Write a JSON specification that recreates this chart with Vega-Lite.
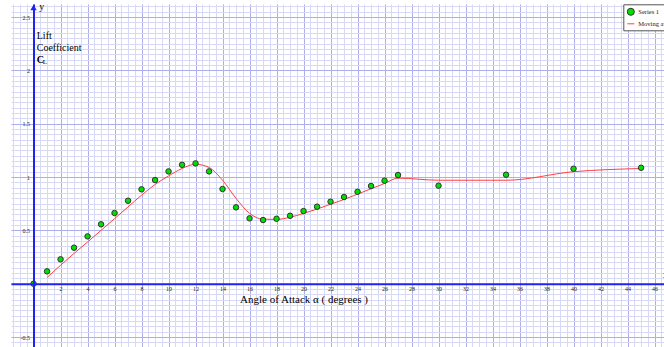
{
  "$schema": "https://vega.github.io/schema/vega-lite/v6.json",
  "width": 653,
  "height": 343,
  "autosize": {"type": "none"},
  "padding": {"left": 11, "top": 4, "right": 0, "bottom": 0},
  "background": "white",
  "config": {"view": {"stroke": null}},
  "data": {
    "values": [
      {"alpha": 0, "cl": 0, "ma": null},
      {"alpha": 1, "cl": 0.116, "ma": 0.058},
      {"alpha": 2, "cl": 0.229, "ma": 0.173},
      {"alpha": 3, "cl": 0.338, "ma": 0.284},
      {"alpha": 4, "cl": 0.444, "ma": 0.391},
      {"alpha": 5, "cl": 0.557, "ma": 0.5},
      {"alpha": 6, "cl": 0.663, "ma": 0.61},
      {"alpha": 7, "cl": 0.778, "ma": 0.72},
      {"alpha": 8, "cl": 0.885, "ma": 0.83},
      {"alpha": 9, "cl": 0.972, "ma": 0.93},
      {"alpha": 10, "cl": 1.053, "ma": 1.01},
      {"alpha": 11, "cl": 1.115, "ma": 1.08},
      {"alpha": 12, "cl": 1.128, "ma": 1.12},
      {"alpha": 13, "cl": 1.053, "ma": 1.09},
      {"alpha": 14, "cl": 0.888, "ma": 0.97},
      {"alpha": 15, "cl": 0.716, "ma": 0.8},
      {"alpha": 16, "cl": 0.613, "ma": 0.66},
      {"alpha": 17, "cl": 0.597, "ma": 0.605},
      {"alpha": 18, "cl": 0.609, "ma": 0.603},
      {"alpha": 19, "cl": 0.637, "ma": 0.623},
      {"alpha": 20, "cl": 0.681, "ma": 0.659},
      {"alpha": 21, "cl": 0.722, "ma": 0.7},
      {"alpha": 22, "cl": 0.769, "ma": 0.745},
      {"alpha": 23, "cl": 0.813, "ma": 0.79},
      {"alpha": 24, "cl": 0.862, "ma": 0.84},
      {"alpha": 25, "cl": 0.916, "ma": 0.89},
      {"alpha": 26, "cl": 0.966, "ma": 0.94},
      {"alpha": 27, "cl": 1.019, "ma": 0.99},
      {"alpha": 30, "cl": 0.919, "ma": 0.97},
      {"alpha": 35, "cl": 1.022, "ma": 0.97},
      {"alpha": 40, "cl": 1.078, "ma": 1.05},
      {"alpha": 45, "cl": 1.087, "ma": 1.08}
    ]
  },
  "resolve": {"axis": {"x": "independent", "y": "independent"}},
  "layer": [
    {
      "transform": [{"filter": "isValid(datum.ma)"}],
      "mark": {"type": "line", "interpolate": "monotone", "strokeWidth": 1, "color": "#ff4040"},
      "encoding": {
        "x": {
          "field": "alpha", "type": "quantitative",
          "scale": {"domain": [-1.67, 46.7], "nice": false, "zero": false},
          "axis": {
            "orient": "bottom",
            "title": null, "labels": false, "ticks": false, "domain": false,
            "grid": true, "gridColor": "#d8d8f7", "gridWidth": 1, "gridOpacity": 1, "zindex": 0,
            "values": [-1.5,-1,-0.5,0,0.5,1,1.5,2,2.5,3,3.5,4,4.5,5,5.5,6,6.5,7,7.5,8,8.5,9,9.5,10,10.5,11,11.5,12,12.5,13,13.5,14,14.5,15,15.5,16,16.5,17,17.5,18,18.5,19,19.5,20,20.5,21,21.5,22,22.5,23,23.5,24,24.5,25,25.5,26,26.5,27,27.5,28,28.5,29,29.5,30,30.5,31,31.5,32,32.5,33,33.5,34,34.5,35,35.5,36,36.5,37,37.5,38,38.5,39,39.5,40,40.5,41,41.5,42,42.5,43,43.5,44,44.5,45,45.5,46,46.5]
          }
        },
        "y": {
          "field": "ma", "type": "quantitative",
          "scale": {"domain": [-0.593, 2.622], "nice": false, "zero": false},
          "axis": {
            "orient": "left",
            "title": null, "labels": false, "ticks": false, "domain": false,
            "grid": true, "gridColor": "#d8d8f7", "gridWidth": 1, "gridOpacity": 1, "zindex": 0,
            "values": [-0.55,-0.5,-0.45,-0.4,-0.35,-0.3,-0.25,-0.2,-0.15,-0.1,-0.05,0,0.05,0.1,0.15,0.2,0.25,0.3,0.35,0.4,0.45,0.5,0.55,0.6,0.65,0.7,0.75,0.8,0.85,0.9,0.95,1,1.05,1.1,1.15,1.2,1.25,1.3,1.35,1.4,1.45,1.5,1.55,1.6,1.65,1.7,1.75,1.8,1.85,1.9,1.95,2,2.05,2.1,2.15,2.2,2.25,2.3,2.35,2.4,2.45,2.5,2.55,2.6]
          }
        }
      }
    },
    {
      "data": {"values": [{}]},
      "mark": {"type": "text", "align": "left", "baseline": "alphabetic", "font": "Liberation Serif", "fontSize": 10, "lineHeight": 12, "color": "#000000"},
      "encoding": {
        "x": {
          "datum": 0.237, "type": "quantitative",
          "scale": {"domain": [-1.67, 46.7], "nice": false, "zero": false},
          "axis": {
            "orient": "bottom",
            "title": null, "labels": false, "ticks": false, "domain": false,
            "grid": true, "gridColor": "#aeaeef", "gridWidth": 1, "gridOpacity": 1, "zindex": 0,
            "values": [0,2,4,6,8,10,12,14,16,18,20,22,24,26,28,30,32,34,36,38,40,42,44,46]
          }
        },
        "y": {
          "datum": 2.296, "type": "quantitative",
          "scale": {"domain": [-0.593, 2.622], "nice": false, "zero": false},
          "axis": {
            "orient": "left",
            "title": null, "labels": false, "ticks": false, "domain": false,
            "grid": true, "gridColor": "#aeaeef", "gridWidth": 1, "gridOpacity": 1, "zindex": 0,
            "values": [-0.5,0,0.5,1,1.5,2,2.5]
          }
        },
        "text": {"value": ["Lift", "Coefficient"]}
      }
    },
    {
      "data": {"values": [{}]},
      "mark": {"type": "text", "align": "left", "baseline": "alphabetic", "font": "Liberation Serif", "fontSize": 10, "fontWeight": "bold", "color": "#000000"},
      "encoding": {
        "x": {"datum": 0.237, "type": "quantitative", "scale": {"domain": [-1.67, 46.7], "nice": false, "zero": false}, "axis": null},
        "y": {"datum": 2.071, "type": "quantitative", "scale": {"domain": [-0.593, 2.622], "nice": false, "zero": false}, "axis": null},
        "text": {"value": "C"}
      }
    },
    {
      "data": {"values": [{}]},
      "mark": {"type": "text", "align": "left", "baseline": "alphabetic", "font": "Liberation Serif", "fontSize": 7, "color": "#000000"},
      "encoding": {
        "x": {"datum": 0.68, "type": "quantitative", "scale": {"domain": [-1.67, 46.7], "nice": false, "zero": false}, "axis": null},
        "y": {"datum": 2.06, "type": "quantitative", "scale": {"domain": [-0.593, 2.622], "nice": false, "zero": false}, "axis": null},
        "text": {"value": "L"}
      }
    },
    {
      "data": {"values": [{}]},
      "mark": {"type": "text", "align": "left", "baseline": "alphabetic", "font": "Liberation Serif", "fontSize": 10, "color": "#000000"},
      "encoding": {
        "x": {"datum": 0.43, "type": "quantitative", "scale": {"domain": [-1.67, 46.7], "nice": false, "zero": false}, "axis": null},
        "y": {"datum": 2.57, "type": "quantitative", "scale": {"domain": [-0.593, 2.622], "nice": false, "zero": false}, "axis": null},
        "text": {"value": "y"}
      }
    },
    {
      "data": {"values": [{}]},
      "mark": {"type": "text", "align": "left", "baseline": "alphabetic", "font": "Liberation Serif", "fontSize": 10, "color": "#000000"},
      "encoding": {
        "x": {"datum": 46.63, "type": "quantitative", "scale": {"domain": [-1.67, 46.7], "nice": false, "zero": false}, "axis": null},
        "y": {"datum": 0.058, "type": "quantitative", "scale": {"domain": [-0.593, 2.622], "nice": false, "zero": false}, "axis": null},
        "text": {"value": "x"}
      }
    },
    {
      "data": {"values": [{}]},
      "mark": {"type": "point", "shape": "triangle-up", "filled": true, "size": 40, "color": "#2222ee", "opacity": 1},
      "encoding": {
        "x": {"datum": 0, "type": "quantitative", "scale": {"domain": [-1.67, 46.7], "nice": false, "zero": false}, "axis": null},
        "y": {"datum": 2.589, "type": "quantitative", "scale": {"domain": [-0.593, 2.622], "nice": false, "zero": false}, "axis": null}
      }
    },
    {
      "mark": {"type": "point", "filled": true, "size": 30, "opacity": 1},
      "encoding": {
        "x": {
          "field": "alpha", "type": "quantitative",
          "scale": {"domain": [-1.67, 46.7], "nice": false, "zero": false},
          "axis": {
            "orient": "bottom",
            "title": "Angle of Attack α ( degrees )",
            "titleFont": "Liberation Serif", "titleFontSize": 11, "titleFontWeight": "normal", "titleColor": "#000000",
            "titleBaseline": "alphabetic", "titleAlign": "center", "titleX": 292.5, "titleY": 18.6,
            "offset": -63.3, "grid": false, "ticks": false,
            "domain": true, "domainColor": "#2222ee", "domainWidth": 2, "zindex": 1,
            "labelFont": "Liberation Serif", "labelFontSize": 6, "labelColor": "#222222", "labelPadding": 2,
            "labelOverlap": false, "labelFlush": false, "labelExpr": "'' + datum.value",
            "values": [2,4,6,8,10,12,14,16,18,20,22,24,26,28,30,32,34,36,38,40,42,44,46]
          }
        },
        "y": {
          "field": "cl", "type": "quantitative",
          "scale": {"domain": [-0.593, 2.622], "nice": false, "zero": false},
          "axis": {
            "orient": "left",
            "title": null, "offset": -22.5, "grid": false, "ticks": false,
            "domain": true, "domainColor": "#2222ee", "domainWidth": 2, "zindex": 1,
            "labelFont": "Liberation Serif", "labelFontSize": 6, "labelColor": "#222222", "labelPadding": 4,
            "labelOverlap": false, "labelFlush": false, "labelExpr": "'' + datum.value",
            "values": [-0.5,0.5,1,1.5,2,2.5]
          }
        },
        "color": {
          "datum": "Series 1", "type": "nominal",
          "scale": {"domain": ["Series 1", "Moving average"], "range": ["#00e000", "#ff4040"]},
          "legend": {
            "title": null, "orient": "none", "legendX": 612.3, "legendY": 0.3,
            "fillColor": "white", "strokeColor": "#555555", "padding": 3,
            "labelFont": "Liberation Serif", "labelFontSize": 6.5, "labelColor": "#222222", "labelLimit": 200,
            "labelOffset": 3, "rowPadding": 1,
            "symbolSize": 50,
            "symbolType": {"expr": "datum.value == 'Series 1' ? 'circle' : 'stroke'"},
            "symbolStrokeColor": {"expr": "datum.value == 'Series 1' ? '#333333' : '#ff4040'"},
            "symbolStrokeWidth": 1
          }
        }
      }
    },
    {
      "mark": {"type": "point", "filled": false, "size": 30, "stroke": "#333333", "strokeWidth": 1, "opacity": 1},
      "encoding": {
        "x": {"field": "alpha", "type": "quantitative", "scale": {"domain": [-1.67, 46.7], "nice": false, "zero": false}, "axis": null},
        "y": {"field": "cl", "type": "quantitative", "scale": {"domain": [-0.593, 2.622], "nice": false, "zero": false}, "axis": null}
      }
    }
  ]
}
